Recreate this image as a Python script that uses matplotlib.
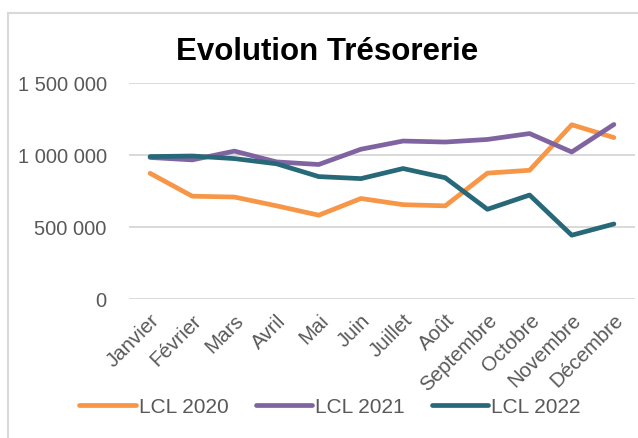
import numpy as np
import matplotlib.pyplot as plt
from matplotlib.lines import Line2D

plt.rcParams['font.family'] = ['Liberation Sans', 'DejaVu Sans']

months = ['Janvier', 'Février', 'Mars', 'Avril', 'Mai', 'Juin', 'Juillet',
          'Août', 'Septembre', 'Octobre', 'Novembre', 'Décembre']
lcl_2020 = [873000, 714000, 708000, 647000, 582000, 698000, 655000, 647000,
            874000, 894000, 1210000, 1121000]
lcl_2021 = [983000, 966000, 1027000, 952000, 934000, 1040000, 1097000, 1090000,
            1108000, 1149000, 1021000, 1212000]
lcl_2022 = [989000, 993000, 975000, 939000, 850000, 836000, 906000, 842000,
            623000, 722000, 443000, 521000]
series = [('LCL 2020', lcl_2020, '#F79646'),
          ('LCL 2021', lcl_2021, '#8064A2'),
          ('LCL 2022', lcl_2022, '#276879')]
yticks = [0, 500000, 1000000, 1500000]

fig = plt.figure(figsize=(6.38, 4.39), dpi=100)
ax = fig.add_axes([129/638, 1-300/439, (635-129)/638, (300-84)/439])

x = np.arange(len(months))
for name, vals, col in series:
    ax.plot(x, vals, color=col, lw=3.4, label=name, solid_capstyle='round',
            solid_joinstyle='round')

ax.set_xlim(-0.5, len(months) - 0.5)
ax.set_ylim(0, 1500000)
ax.set_yticks(yticks)
ax.set_yticklabels([f'{v:,}'.replace(',', ' ') for v in yticks])
ax.set_xticks(x)
ax.set_xticklabels(months, rotation=45, ha='right', va='top',
                   rotation_mode='anchor')
ax.tick_params(axis='y', length=0, pad=16, labelsize=14.5, labelcolor='#595959')
ax.tick_params(axis='x', length=0, pad=8, labelsize=14.8, labelcolor='#595959')
ax.grid(axis='y', color='#D9D9D9', lw=1.4)
ax.set_axisbelow(True)
for s in ax.spines.values():
    s.set_visible(False)

fig.text(327/638, 1-52/439, 'Evolution Trésorerie', ha='center', va='center',
         fontsize=22.5, fontweight='bold')

# chart frame (only left and top edges are visible)
fig.add_artist(Line2D([7.5/638, 7.5/638], [0, 1-13.5/439], transform=fig.transFigure,
                      color='#D9D9D9', lw=1.5))
fig.add_artist(Line2D([7.5/638, 1], [1-13.5/439, 1-13.5/439], transform=fig.transFigure,
                      color='#D9D9D9', lw=1.5))

leg = fig.legend(loc='center', bbox_to_anchor=(330/638, 1-408/439), ncol=3,
                 frameon=False, fontsize=15, handlelength=2.7, handletextpad=0.15,
                 columnspacing=1.3, labelcolor='#595959')
for h in leg.get_lines():
    h.set_solid_capstyle('round')

fig.savefig('out.png', dpi=100)
